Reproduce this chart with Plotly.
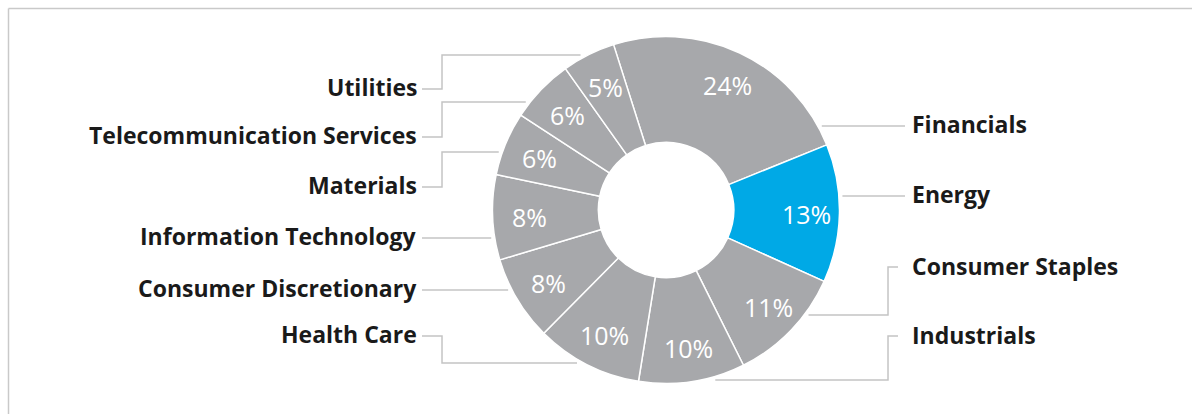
import math
import plotly.graph_objects as go

# ---- data ----
sectors = ["Financials", "Energy", "Consumer Staples", "Industrials", "Health Care",
           "Consumer Discretionary", "Information Technology", "Materials",
           "Telecommunication Services", "Utilities"]
weights = [24, 13, 11, 10, 10, 8, 8, 6, 6, 5]
highlight = "Energy"

# ---- layout constants (pixels) ----
W, H = 1192, 414
CX, CY, R = 666, 210, 173.5
HOLE = 0.39
START_DEG = -17.6          # first slice starts 17.6 deg left of 12 o'clock
LINE_R = 177               # leader lines stop just outside the ring
PCT_R = 139                # radius of the percentage labels
GRAY = "#a7a8ab"
BLUE = "#00a9e6"
LINE_C = "#c4c4c4"
TEXT_C = "#1a1a1a"
LABEL_FONT = dict(family="Open Sans", size=23, color=TEXT_C, weight=700)
PCT_FONT = dict(family="Open Sans", size=25, color="white")

def px(x):
    return x / W

def py(y):
    return 1 - y / H

colors = [BLUE if s == highlight else GRAY for s in sectors]

fig = go.Figure(go.Pie(
    labels=sectors,
    values=weights,
    sort=False,
    direction="clockwise",
    rotation=START_DEG,
    hole=HOLE,
    marker=dict(colors=colors, line=dict(color="white", width=1.5)),
    textinfo="none",
    showlegend=False,
    hoverinfo="label+value",
    domain=dict(x=[px(CX - R), px(CX + R)], y=[py(CY + R), py(CY - R)]),
))

annotations = []

# percentage labels at each slice's mid-angle (derived from the values)
total = sum(weights)
cum = 0
for name, v in zip(sectors, weights):
    a = math.radians(START_DEG + (cum + v / 2) / total * 360)
    cum += v
    x = CX + PCT_R * math.sin(a)
    y = CY - PCT_R * math.cos(a)
    annotations.append(dict(x=px(x + 2), y=py(y + 1), xref="paper", yref="paper",
                            text=f"{v}%", showarrow=False, xanchor="center", yanchor="middle",
                            font=PCT_FONT))

# label layout: side, text_y, elbow_line_y (None = straight line)
label_layout = {
    "Utilities": ("left", 87, 55),
    "Telecommunication Services": ("left", 135, 102),
    "Materials": ("left", 185, 152),
    "Information Technology": ("left", 236, None),
    "Consumer Discretionary": ("left", 288, None),
    "Health Care": ("left", 334, 363),
    "Financials": ("right", 124, None),
    "Energy": ("right", 194, None),
    "Consumer Staples": ("right", 266, 315),
    "Industrials": ("right", 335, 380),
}
LEFT_TEXT_X, LEFT_ELBOW_X = 419, 442
RIGHT_TEXT_X, RIGHT_ELBOW_X = 910, 888

shapes = [
    # frame (top and left edges visible)
    dict(type="line", xref="paper", yref="paper", x0=px(8.5), y0=py(8.5), x1=px(W + 5), y1=py(8.5),
         line=dict(color="#c9c9c9", width=1.5)),
    dict(type="line", xref="paper", yref="paper", x0=px(8.5), y0=py(8.5), x1=px(8.5), y1=py(H + 5),
         line=dict(color="#c9c9c9", width=1.5)),
]

def ring_x(y, side):
    dy = y - CY
    dx = math.sqrt(max(LINE_R ** 2 - dy ** 2, 0))
    return CX - dx if side == "left" else CX + dx

for name in sectors:
    side, ty, ly = label_layout[name]
    line_y = ty + 2 if ly is None else ly
    end_x = ring_x(line_y, side)
    if side == "left":
        start_x = 422
        if ly is None:
            pts = [(start_x, line_y), (end_x, line_y)]
        else:
            pts = [(start_x, ty + 2), (LEFT_ELBOW_X, ty + 2), (LEFT_ELBOW_X, ly), (end_x, ly)]
        annotations.append(dict(x=px(LEFT_TEXT_X), y=py(ty), xref="paper", yref="paper",
                                text=name, showarrow=False, xanchor="right", yanchor="middle",
                                font=LABEL_FONT))
    else:
        start_x = 905
        if ly is None:
            pts = [(start_x, line_y), (end_x, line_y)]
        else:
            pts = [(start_x - 7, ty + 1), (RIGHT_ELBOW_X, ty + 1), (RIGHT_ELBOW_X, ly), (end_x, ly)]
        annotations.append(dict(x=px(RIGHT_TEXT_X), y=py(ty), xref="paper", yref="paper",
                                text=name, showarrow=False, xanchor="left", yanchor="middle",
                                font=LABEL_FONT))
    path = "M " + " L ".join(f"{px(x):.5f},{py(y):.5f}" for x, y in pts)
    shapes.append(dict(type="path", xref="paper", yref="paper", path=path,
                       line=dict(color=LINE_C, width=1.5)))

fig.update_layout(
    width=W, height=H,
    margin=dict(l=0, r=0, t=0, b=0),
    paper_bgcolor="white",
    plot_bgcolor="white",
    shapes=shapes,
    annotations=annotations,
)

fig.write_html("out.html")
